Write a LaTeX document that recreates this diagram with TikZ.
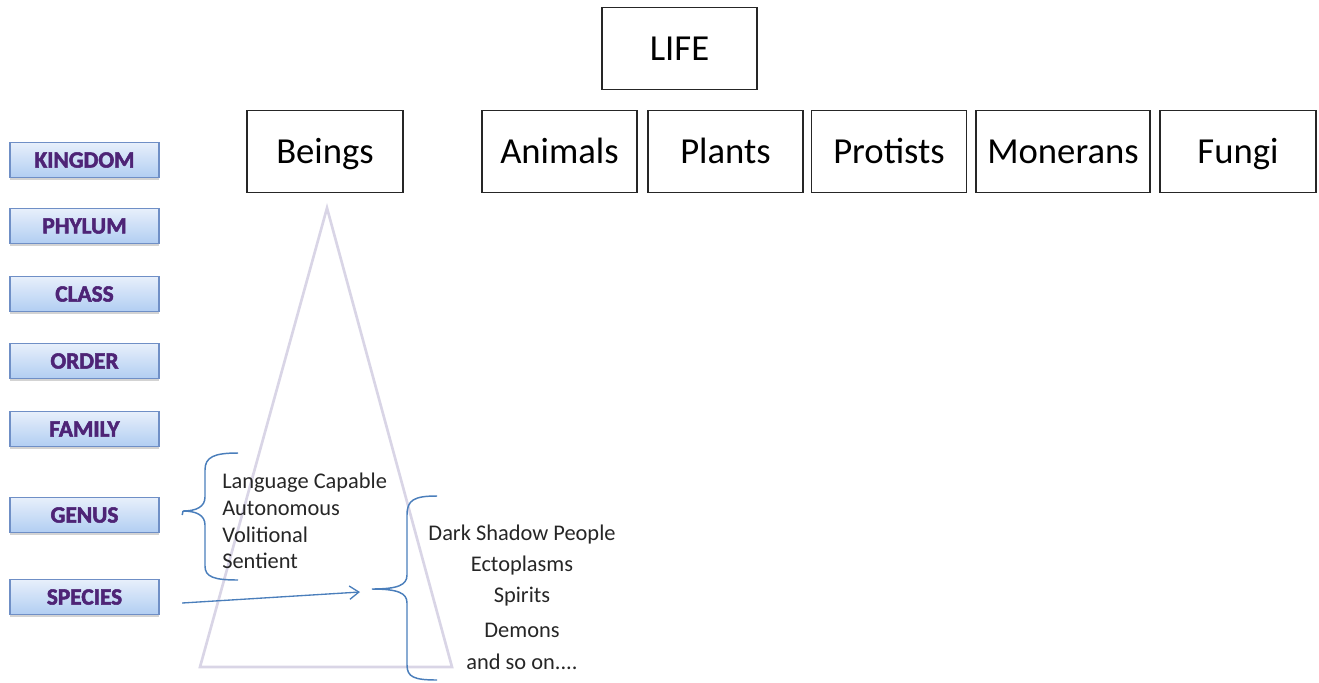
\documentclass[tikz,border=0pt]{standalone}
\usepackage{fontspec}
\setmainfont{Carlito}
\newfontfamily\rankfont[BoldFeatures={FakeBold=2.2}]{Carlito}
\usetikzlibrary{arrows.meta,shadows}
\definecolor{rankblue}{HTML}{B1CDF2}
\definecolor{rankline}{HTML}{6F8FC6}
\definecolor{rankink}{HTML}{4E2476}
\definecolor{bracecol}{HTML}{4A7EBB}
\definecolor{tricol}{HTML}{D9D5E6}
\begin{document}
\begin{tikzpicture}[x=0.75pt,y=-0.75pt,
  box/.style={draw=black!85, line width=1.3pt, fill=white, inner sep=0pt,
    minimum height=61.5pt, text height=17.7pt, text depth=0pt,
    font=\fontsize{27.5}{30}\selectfont},
  rank/.style={draw=rankline, line width=0.8pt, top color=rankblue!30, bottom color=rankblue,
    minimum width=111.75pt, minimum height=26.5pt, inner sep=0pt,
    drop shadow={shadow xshift=0pt, shadow yshift=-1.5pt, opacity=0.35},
    text=rankink, font=\rankfont\fontsize{17.5}{20}\selectfont\bfseries},
  brace/.style={draw=bracecol, line width=1.1pt},
  plain/.style={font=\fontsize{16.8}{20}\selectfont, text=black!85, inner sep=0pt}]
\useasboundingbox (0,0) rectangle (1319,682);

% top row of boxes
\node[box, minimum width=116.25pt] (life) at (679.5,48.5) {LIFE};
\node[box, minimum width=117pt] (beings) at (325,151.5) {Beings};
\node[box, minimum width=116.25pt] (animals) at (559.5,151.5) {Animals};
\node[box, minimum width=116.25pt] (plants) at (725.5,151.5) {Plants};
\node[box, minimum width=116.25pt] (protists) at (889,151.5) {Protists};
\node[box, minimum width=130.5pt] (monerans) at (1063,151.5) {Monerans};
\node[box, minimum width=117pt] (fungi) at (1238,151.5) {Fungi};

% taxonomic ranks
\node[rank] (kingdom) at (84.5,160) {KINGDOM};
\node[rank] (phylum) at (84.5,226) {PHYLUM};
\node[rank] (class) at (84.5,294) {CLASS};
\node[rank] (order) at (84.5,361) {ORDER};
\node[rank] (family) at (84.5,429) {FAMILY};
\node[rank] (genus) at (84.5,515) {GENUS};
\node[rank] (species) at (84.5,597) {SPECIES};

% pyramid under Beings
\draw[tricol, line width=2pt, line join=miter] (327,208) -- (452,667) -- (200,667) -- cycle;

% genus traits with their brace
\coordinate (tipL) at (183,511);
\draw[brace] (238,453) .. controls (214,453) and (205,457) .. (205,470)
  -- (205,497) .. controls (205,507) and (196,511) .. (tipL)
  .. controls (196,511) and (205,515) .. (205,525)
  -- (205,566) .. controls (205,577) and (214,580) .. (238,580);
\node[plain, anchor=west, align=left] (traits) at (222,521)
  {\baselineskip=20.6pt Language Capable\\Autonomous\\Volitional\\Sentient};

% species examples with their brace
\coordinate (tipR) at (372,589);
\draw[brace] (437,496) .. controls (414,496) and (407,500) .. (407,515)
  -- (407,575) .. controls (407,585) and (398,589) .. (tipR)
  .. controls (398,589) and (407,593) .. (407,603)
  -- (407,665) .. controls (407,677) and (414,680) .. (437,680);
\node[plain] (dsp) at (522,535) {Dark Shadow People};
\node[plain] (ecto) at (522,566) {Ectoplasms};
\node[plain] (spir) at (522,597) {Spirits};
\node[plain] (demo) at (522,630) {Demons};
\node[plain] (soon) at (522,662) {and so on....};

% links from the ranks
\draw[brace] ([xshift=17pt]genus.east) -- (tipL);
\coordinate (arrowend) at (360,592);
\draw[bracecol, line width=1pt, -{Straight Barb[length=7pt,width=10pt]}]
  ([xshift=17pt,yshift=-4.5pt]species.east) -- (arrowend);
\end{tikzpicture}
\end{document}
